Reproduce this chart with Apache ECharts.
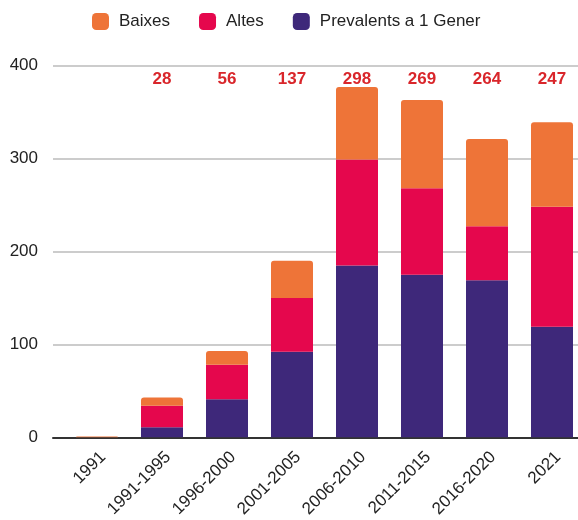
<!DOCTYPE html>
<html>
<head>
<meta charset="utf-8">
<script src="https://cdn.jsdelivr.net/npm/echarts@6/dist/echarts.min.js"></script>
<style>
    html, body { margin: 0; padding: 0; background: #fff; overflow: hidden; }
    .main { width: 592px; height: 520px; }
</style>
</head>
<body>
<div class="main"></div>
<script>
// dades
var periodes = ['1991', '1991-1995', '1996-2000', '2001-2005', '2006-2010', '2011-2015', '2016-2020', '2021'];
var prevalents = [0, 11, 41, 92, 185, 175, 169, 119];
var altes = [0, 23, 37, 58, 114, 93, 58, 129];
var baixes = [1, 9, 15, 40, 78, 95, 94, 91];
var etiquetes = ['', '28', '56', '137', '298', '269', '264', '247'];
var yTicks = [0, 100, 200, 300, 400];

(function () {
    var myChart = echarts.init(document.querySelector('.main'));
    var font = '"Liberation Sans", Arial, sans-serif';
    var option = {
        animation: false,
        textStyle: { fontFamily: font },
        legend: {
            data: ['Baixes', 'Altes', 'Prevalents a 1 Gener'],
            left: 87,
            top: 8,
            icon: 'roundRect',
            itemWidth: 17,
            itemHeight: 17,
            itemGap: 29,
            textStyle: {
                color: '#222',
                fontSize: 17,
                fontFamily: font,
                padding: [0, 0, 0, 5]
            }
        },
        // grid 0: linies i eix Y, grid 1: barres
        grid: [
            { left: 53, width: 525, top: 65.5, height: 372 },
            { left: 64.5, width: 520, top: 65.5, height: 372 }
        ],
        xAxis: [
            {
                type: 'value',
                gridIndex: 0,
                min: 0,
                max: 1,
                axisLine: { show: true, lineStyle: { color: '#333', width: 2 } },
                axisTick: { show: false },
                axisLabel: { show: false },
                splitLine: { show: false }
            },
            {
                type: 'category',
                gridIndex: 1,
                data: periodes,
                axisLine: { show: false },
                axisTick: { show: false },
                axisLabel: {
                    rotate: 45,
                    interval: 0,
                    margin: 11,
                    verticalAlign: 'top',
                    color: '#222',
                    fontSize: 17,
                    fontFamily: font
                }
            },
            {
                type: 'category',
                gridIndex: 1,
                position: 'top',
                data: etiquetes,
                axisLine: { show: false },
                axisTick: { show: false },
                axisLabel: {
                    inside: true,
                    interval: 0,
                    margin: 5,
                    color: '#d9262b',
                    fontSize: 17,
                    fontWeight: 'bold',
                    fontFamily: font
                }
            }
        ],
        yAxis: [
            {
                type: 'value',
                gridIndex: 0,
                min: yTicks[0],
                max: yTicks[yTicks.length - 1],
                interval: 100,
                axisLine: { show: false },
                axisTick: { show: false },
                axisLabel: {
                    color: '#222',
                    fontSize: 17,
                    margin: 15,
                    fontFamily: font
                },
                splitLine: {
                    lineStyle: { color: '#cccccc', width: 2 }
                }
            },
            {
                type: 'value',
                gridIndex: 1,
                min: yTicks[0],
                max: yTicks[yTicks.length - 1],
                show: false
            }
        ],
        series: [
            {
                name: 'Prevalents a 1 Gener',
                type: 'bar',
                xAxisIndex: 1,
                yAxisIndex: 1,
                stack: 'total',
                barWidth: 42,
                itemStyle: { color: '#3e287a' },
                data: prevalents
            },
            {
                name: 'Altes',
                type: 'bar',
                xAxisIndex: 1,
                yAxisIndex: 1,
                stack: 'total',
                barWidth: 42,
                itemStyle: { color: '#e5074d' },
                data: altes
            },
            {
                name: 'Baixes',
                type: 'bar',
                xAxisIndex: 1,
                yAxisIndex: 1,
                stack: 'total',
                barWidth: 42,
                itemStyle: { color: '#ee7438', borderRadius: [3, 3, 0, 0] },
                data: baixes
            }
        ]
    };
    myChart.setOption(option);
    window.addEventListener('resize', function () {
        myChart.resize();
    });
})();
</script>
</body>
</html>
